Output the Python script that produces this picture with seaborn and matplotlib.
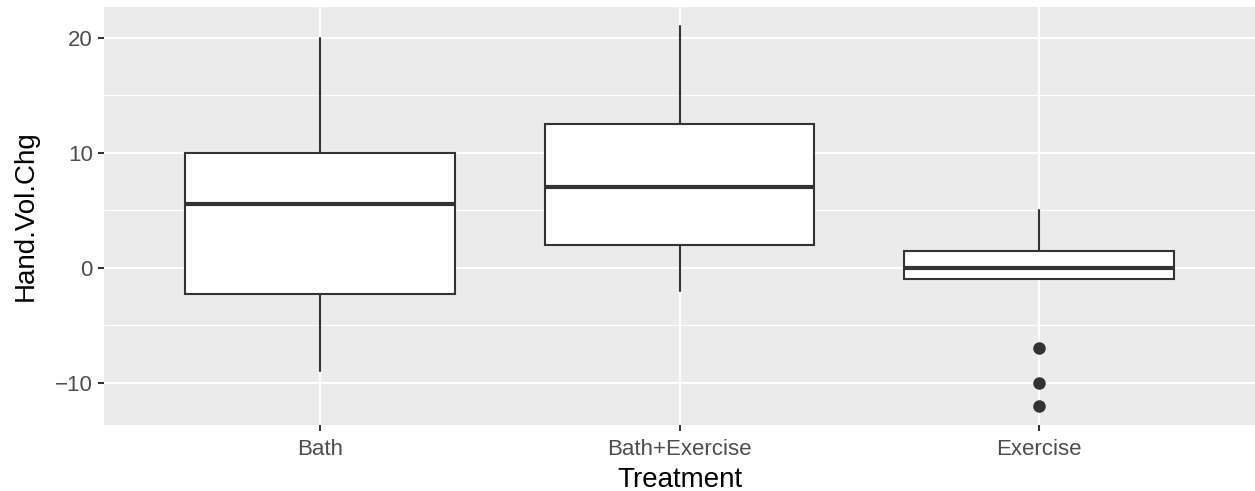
import matplotlib
matplotlib.use("Agg")
import matplotlib.pyplot as plt
from matplotlib.ticker import FixedLocator
import seaborn as sns

# Box summaries
treatments = ["Bath", "Bath+Exercise", "Exercise"]
q1 = [-2.25, 2.0, -1.0]
medians = [5.5, 7.0, 0.0]
q3 = [10.0, 12.5, 1.5]
whisker_low = [-9.0, -2.0, -1.0]
whisker_high = [20.0, 21.0, 5.0]
outliers = [[], [], [-7.0, -10.0, -12.0]]

# ggplot-like grey theme
sns.set_theme(style="darkgrid", rc={
    "axes.facecolor": "#EBEBEB",
    "grid.color": "white",
    "axes.edgecolor": "#EBEBEB",
})
plt.rcParams["font.family"] = ["Liberation Sans", "DejaVu Sans"]

stats = []
for i, name in enumerate(treatments):
    stats.append({
        "label": name,
        "q1": q1[i],
        "med": medians[i],
        "q3": q3[i],
        "whislo": whisker_low[i],
        "whishi": whisker_high[i],
        "fliers": outliers[i],
    })

fig = plt.figure(figsize=(12.55, 4.91), dpi=100)
ax = fig.add_axes([104 / 1255, 66 / 491, 1151 / 1255, 418 / 491])

dark = "#333333"
ax.bxp(stats, positions=range(len(treatments)), widths=0.75,
       patch_artist=True, showcaps=False,
       boxprops=dict(facecolor="white", edgecolor=dark, linewidth=1.5),
       medianprops=dict(color=dark, linewidth=3.0, solid_capstyle="butt"),
       whiskerprops=dict(color=dark, linewidth=1.5),
       flierprops=dict(marker="o", markerfacecolor=dark, markeredgecolor=dark,
                       markersize=8))

ax.set_xlim(-0.6, 2.6)
ax.set_ylim(-13.65, 22.65)
ax.set_xticks(range(len(treatments)))
ax.set_xticklabels(treatments)
ax.set_yticks([-10, 0, 10, 20])
ax.set_yticklabels(["\u221210", "0", "10", "20"])
ax.yaxis.set_minor_locator(FixedLocator([-5, 5, 15]))

ax.grid(which="major", color="white", linewidth=1.5)
ax.grid(which="minor", axis="y", color="white", linewidth=0.75)
ax.set_axisbelow(True)

ax.tick_params(axis="both", which="major", bottom=True, left=True,
               length=4, width=1.5, color=dark,
               labelcolor="#4D4D4D", labelsize=16)
ax.tick_params(axis="x", which="major", pad=6)
ax.tick_params(axis="y", which="major", pad=4)
ax.tick_params(axis="both", which="minor", length=0)
for s in ax.spines.values():
    s.set_visible(False)

ax.set_xlabel("Treatment", fontsize=20, color="black", labelpad=5)
ax.set_ylabel("Hand.Vol.Chg", fontsize=20, color="black", labelpad=12)

plt.savefig("out.png", dpi=100)
